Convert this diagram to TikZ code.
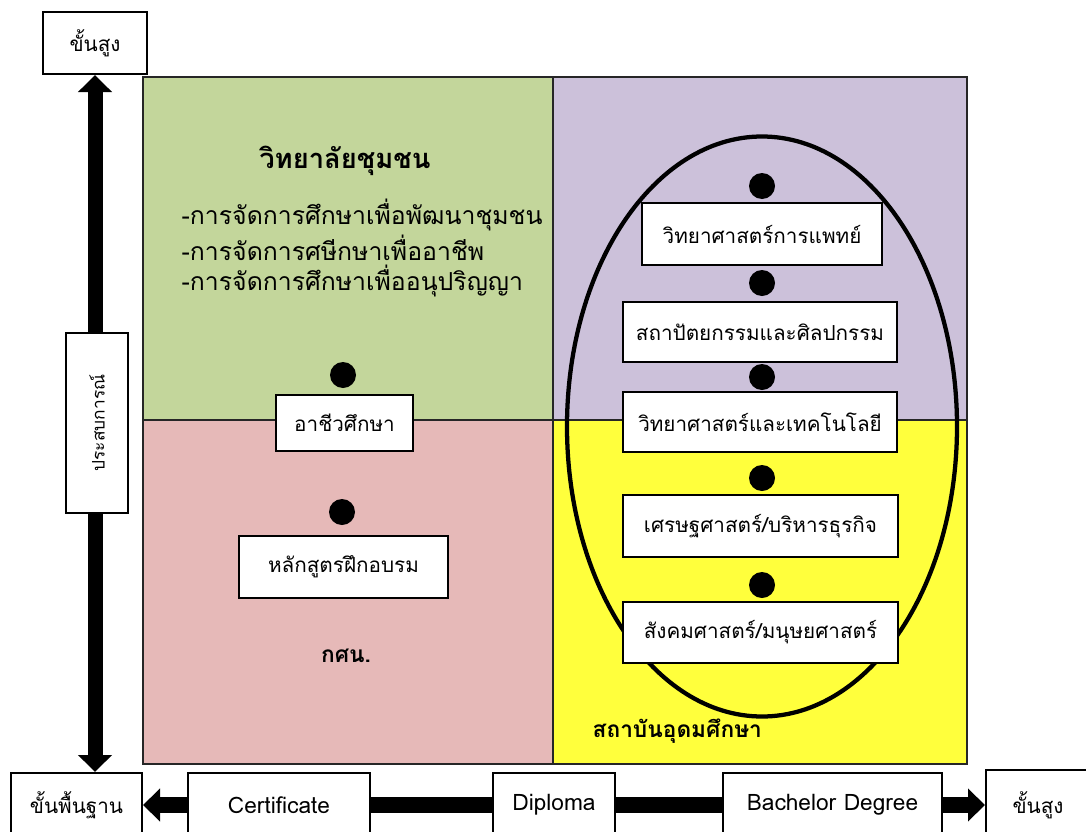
\documentclass[tikz,border=0pt]{standalone}
\usepackage{fontspec}
\setmainfont{Loma}[Script=Thai]
\usetikzlibrary{arrows.meta}
\definecolor{cgreen}{HTML}{C3D69B}
\definecolor{cpink}{HTML}{E6B9B8}
\definecolor{cpurple}{HTML}{CCC1DA}
\definecolor{cyellow}{HTML}{FFFF3C}
\begin{document}
\begin{tikzpicture}[x=0.75pt,y=-0.75pt,
  box/.style={draw=black, fill=white, line width=1.5pt, inner sep=0pt, font=\fontsize{15.5}{18}\selectfont},
  latin/.style={font=\fontsize{17}{20}\selectfont},
  region/.style={draw=black!85, line width=1pt},
  dot/.style={circle, fill=black, minimum size=19.5pt, inner sep=0pt},
  vshaft/.style={line width=11.25pt, {Triangle[width=24.75pt,length=12.75pt]}-{Triangle[width=24.75pt,length=12.75pt]}},
  hshaft/.style={line width=12pt},
  hleft/.style={hshaft, {Triangle[width=24pt,length=12.75pt]}-},
  hright/.style={hshaft, -{Triangle[width=24pt,length=12.75pt]}},
  gtext/.style={font=\fontsize{18.6}{22}\selectfont, anchor=west},
  label/.style={font=\bfseries\fontsize{17}{20}\selectfont}
]
\useasboundingbox (0,0) rectangle (1086,832);
\fill[white] (0,0) rectangle (1086,832);
% regions
\path[region, fill=cgreen] (143,77) rectangle (553,420);
\path[region, fill=cpink] (143,420) rectangle (553,764);
\path[region, fill=cpurple] (553,77) rectangle (967,420);
\path[region, fill=cyellow] (553,420) rectangle (967,764);
% ellipse
\draw[line width=3.2pt] (762,426.5) ellipse [x radius=146.25pt, y radius=217.5pt];
% axis boxes
\node[box, minimum width={104*0.75pt}, minimum height={62*0.75pt}] (tl) at (95,43) {ขั้นสูง};
\node[box, minimum width={131*0.75pt}, minimum height={64*0.75pt}] (base) at (76.5,805) {ขั้นพื้นฐาน};
\node[box, latin, minimum width={182*0.75pt}, minimum height={64*0.75pt}] (cert) at (279,805) {Certificate};
\node[box, latin, minimum width={122*0.75pt}, minimum height={64*0.75pt}] (dip) at (554,805) {Diploma};
\node[box, latin, minimum width={219*0.75pt}, minimum height={64*0.75pt}] (bach) at (832.5,805) {Bachelor Degree};
\node[box, minimum width={104*0.75pt}, minimum height={70*0.75pt}] (tr) at (1038,805) {ขั้นสูง};
% arrows
\draw[vshaft] (tl.south) -- (base.north -| tl.south);
\node[box, font=\fontsize{13}{16}\selectfont, rotate=90, minimum width={180*0.75pt}, minimum height={62*0.75pt}] (exp) at (97,423) {ประสบการณ์};
\draw[hleft] (base.east) -- (cert.west);
\draw[hshaft] (cert.east) -- (dip.west);
\draw[hshaft] (dip.east) -- (bach.west);
\draw[hright] (bach.east) -- (tr.west);
% green region
\node[font=\bfseries\fontsize{20.5}{24}\selectfont] (gtitle) at (345,161) {วิทยาลัยชุมชน};
\node[gtext] (g1) at (177,215) {-การจัดการศึกษาเพื่อพัฒนาชุมชน};
\node[gtext] (g2) at (177,248) {-การจัดการศษีกษาเพื่ออาชีพ};
\node[gtext] (g3) at (177,281) {-การจัดการศึกษาเพื่ออนุปริญญา};
\node[dot] (d1) at (343,375) {};
\node[box, minimum width={137*0.75pt}, minimum height={56*0.75pt}] (voc) at (344.5,423) {อาชีวศึกษา};
% pink region
\node[dot] (d2) at (342,512) {};
\node[box, minimum width={209*0.75pt}, minimum height={62*0.75pt}] (train) at (343.5,567) {หลักสูตรฝึกอบรม};
\node[label] (nfe) at (346,656) {กศน.};
% right side
\node[dot] (r1) at (762,186) {};
\node[box, minimum width={240*0.75pt}, minimum height={62*0.75pt}] (b1) at (762,234) {วิทยาศาสตร์การแพทย์};
\node[dot] (r2) at (762,283) {};
\node[box, minimum width={274*0.75pt}, minimum height={60*0.75pt}] (b2) at (760,332) {สถาปัตยกรรมและศิลปกรรม};
\node[dot] (r3) at (762,377) {};
\node[box, minimum width={274*0.75pt}, minimum height={60*0.75pt}] (b3) at (760,422) {วิทยาศาสตร์และเทคโนโลยี};
\node[dot] (r4) at (762,478) {};
\node[box, minimum width={275*0.75pt}, minimum height={62*0.75pt}] (b4) at (760.5,526) {เศรษฐศาสตร์/บริหารธุรกิจ};
\node[dot] (r5) at (762,585) {};
\node[box, minimum width={275*0.75pt}, minimum height={61*0.75pt}] (b5) at (760.5,632.5) {สังคมศาสตร์/มนุษยศาสตร์};
\node[label, anchor=west] (uni) at (588,731) {สถาบันอุดมศึกษา};
\end{tikzpicture}
\end{document}
